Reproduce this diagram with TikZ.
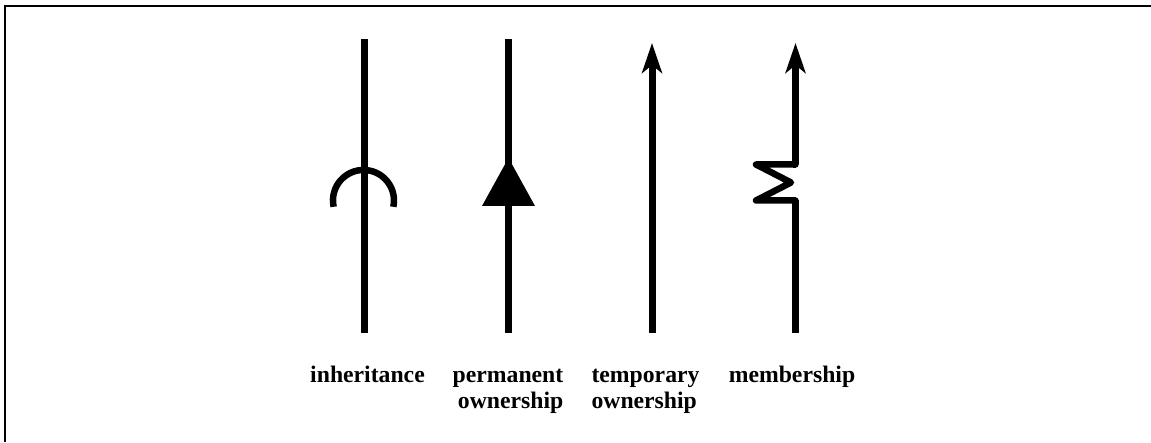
\documentclass[tikz,border=0pt]{standalone}
\usepackage{fontspec}
\setmainfont{Liberation Serif}
\usetikzlibrary{arrows.meta}
\begin{document}
\begin{tikzpicture}[x=1pt,y=1pt,
  frameline/.style={line width=2.2pt},
  relline/.style={line width=7pt},
  headtip/.style={-{Stealth[length=30pt,width=20pt,inset=8pt]}},
  lbl/.style={font=\bfseries\fontsize{23.7}{26.5}\selectfont,anchor=base,inner sep=0pt}]
\useasboundingbox (0,0) rectangle (1151,442);

% open frame: left and top edges only
\draw[frameline] (5,0) -- (5,436) -- (1151,436);

% column end points
\coordinate (inhTop) at (364,403);  \coordinate (inhBot) at (364,109);
\coordinate (perTop) at (508,403);  \coordinate (perBot) at (508,109);
\coordinate (tmpTop) at (652,399);  \coordinate (tmpBot) at (652,109);
\coordinate (memTop) at (795.5,399);\coordinate (memBot) at (795.5,109);

% inheritance: line with a half-circle cap
\draw[relline] (inhBot) -- (inhTop);
\coordinate (arcStart) at (393.3,235.2);
\draw[line width=6.5pt] (arcStart) arc[start angle=-12,end angle=192,radius=30.5];

% permanent ownership: line with a filled triangle
\draw[relline] (perBot) -- (perTop);
\coordinate (triApex) at (508.5,284);
\coordinate (triL) at (482,236);
\coordinate (triR) at (535,236);
\fill (triL) -- (triApex) -- (triR) -- cycle;

% temporary ownership: plain arrow
\draw[relline,headtip] (tmpBot) -- (tmpTop);

% membership: arrow with a zigzag break
\coordinate (zA) at (795.5,277.5);
\coordinate (zB) at (756,277.5);
\coordinate (zC) at (791,259.5);
\coordinate (zD) at (756,241.5);
\coordinate (zE) at (795.5,241.5);
\draw[relline,headtip] (zA) -- (memTop);
\draw[relline] (memBot) -- (zE);
\draw[line width=6.5pt,line join=round,line cap=round] (zA) -- (zB) -- (zC) -- (zD) -- (zE);
\draw[line width=6.5pt] (zA) -- ++(-3,0) (zE) -- ++(-3,0);

% labels (two-line labels are anchored on their last line)
\node[lbl] (inh) at (367.5,60) {inheritance};
\node[lbl,align=right] (per) at (508,33.5) {permanent\\ownership};
\node[lbl,align=left] (tmp) at (645.5,33.5) {temporary\\ownership};
\node[lbl] (mem) at (792,60) {membership};
\end{tikzpicture}
\end{document}
